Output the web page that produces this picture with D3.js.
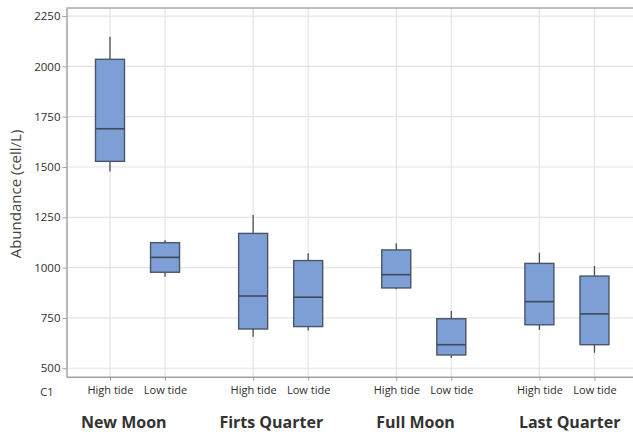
<!DOCTYPE html>
<html><head><meta charset="utf-8">
<script src="https://cdn.jsdelivr.net/npm/d3@7"></script>
<style>
body{margin:0;background:#fff;}
svg{display:block;font-family:"Open Sans","Noto Sans",sans-serif;}
</style></head>
<body>
<svg id="chart" width="633" height="434"></svg>
<script>
// ---- data ----
const groups = ["New Moon", "Firts Quarter", "Full Moon", "Last Quarter"];
const tides = ["High tide", "Low tide"];
const yTicks = [500, 750, 1000, 1250, 1500, 1750, 2000, 2250];
// ordered group by group, High then Low
const whiskerLow  = [1477, 955, 657, 687, 892, 551, 690, 577];
const q1          = [1528, 977, 695, 707, 899, 566, 716, 617];
const median      = [1690, 1051, 859, 853, 965, 617, 831, 770];
const q3          = [2035, 1124, 1170, 1035, 1088, 746, 1021, 958];
const whiskerHigh = [2147, 1137, 1262, 1071, 1121, 785, 1074, 1008];
const groupLabelShift = [0.25, 0.33, 0.35, 0.55];

(function () {
const boxes = [];
groups.forEach((g, gi) => tides.forEach((t, ti) => {
  const i = gi * tides.length + ti;
  boxes.push({group: g, tide: t, pos: gi * 2.6 + ti,
    lo: whiskerLow[i], q1: q1[i], med: median[i], q3: q3[i], hi: whiskerHigh[i]});
}));

const svg = d3.select("#chart");
const mLeft = 66.5, mRight = 633, mTop = 8, mBottom = 376.7;

const x = d3.scaleLinear().domain([-0.79, 9.5]).range([mLeft, mRight]);
const y = d3.scaleLinear().domain([458, 2290]).range([mBottom, mTop]);

// gridlines
const grid = svg.append("g");
grid.selectAll("line.h").data(yTicks).join("line").attr("class", "h")
  .attr("x1", mLeft).attr("x2", mRight)
  .attr("y1", d => y(d)).attr("y2", d => y(d))
  .attr("stroke", "#e4e4e4").attr("stroke-width", 1.2);
grid.selectAll("line.v").data(boxes).join("line").attr("class", "v")
  .attr("x1", d => x(d.pos)).attr("x2", d => x(d.pos))
  .attr("y1", mTop).attr("y2", mBottom)
  .attr("stroke", "#e4e4e4").attr("stroke-width", 1.2);

// frame top
svg.append("line").attr("x1", mLeft).attr("x2", mRight).attr("y1", mTop).attr("y2", mTop)
  .attr("stroke", "#a8a8a8").attr("stroke-width", 1.3);

// y axis
const yAxis = svg.append("g").attr("transform", `translate(${mLeft},0)`)
  .call(d3.axisLeft(y).tickValues(yTicks).tickSize(4).tickSizeOuter(0).tickPadding(2).tickFormat(d3.format("d")));
yAxis.select(".domain").attr("stroke", "#a0a0a0").attr("stroke-width", 1.5);
yAxis.selectAll(".tick line").attr("stroke", "#a0a0a0");
yAxis.selectAll(".tick text").attr("fill", "#2e2e2e").style("font-size", "11.5px")
  .style("font-family", "'Open Sans','Noto Sans',sans-serif");

// x axis
const xAxis = svg.append("g").attr("transform", `translate(0,${mBottom})`)
  .call(d3.axisBottom(x).tickValues(boxes.map(d => d.pos)).tickSize(4).tickSizeOuter(0).tickPadding(6)
    .tickFormat((d, i) => boxes[i].tide));
xAxis.select(".domain").attr("stroke", "#a0a0a0").attr("stroke-width", 1.5);
xAxis.selectAll(".tick line").attr("stroke", "#a0a0a0");
xAxis.selectAll(".tick text").attr("fill", "#2e2e2e").style("font-size", "11px")
  .style("font-family", "'Open Sans','Noto Sans',sans-serif");

// C1 label
svg.append("text").attr("x", mLeft - 13).attr("y", mBottom + 19).attr("text-anchor", "end")
  .attr("fill", "#2e2e2e").style("font-size", "11px").text("C1");

// group labels
svg.selectAll("text.grp").data(groups).join("text").attr("class", "grp")
  .attr("x", (d, i) => x(i * 2.6 + groupLabelShift[i]))
  .attr("y", 428).attr("text-anchor", "middle")
  .attr("fill", "#333").style("font-size", "16px").style("font-weight", "700")
  .text(d => d);

// y title
svg.append("text").attr("transform", `translate(21,194) rotate(-90)`)
  .attr("text-anchor", "middle").attr("fill", "#444").style("font-size", "15px")
  .text("Abundance (cell/L)");

// boxes
const bw = 29;
const bg = svg.append("g").selectAll("g").data(boxes).join("g");
bg.append("line").attr("x1", d => x(d.pos)).attr("x2", d => x(d.pos))
  .attr("y1", d => y(d.q3)).attr("y2", d => y(d.hi))
  .attr("stroke", "#45505e").attr("stroke-width", 1.3);
bg.append("line").attr("x1", d => x(d.pos)).attr("x2", d => x(d.pos))
  .attr("y1", d => y(d.q1)).attr("y2", d => y(d.lo))
  .attr("stroke", "#45505e").attr("stroke-width", 1.3);
bg.append("rect").attr("x", d => x(d.pos) - bw / 2).attr("width", bw)
  .attr("y", d => y(d.q3)).attr("height", d => y(d.q1) - y(d.q3))
  .attr("fill", "#7d9fd6").attr("stroke", "#4a5666").attr("stroke-width", 1.4);
bg.append("line").attr("x1", d => x(d.pos) - bw / 2).attr("x2", d => x(d.pos) + bw / 2)
  .attr("y1", d => y(d.med)).attr("y2", d => y(d.med))
  .attr("stroke", "#3f4a58").attr("stroke-width", 1.6);
})();
</script>
</body></html>
